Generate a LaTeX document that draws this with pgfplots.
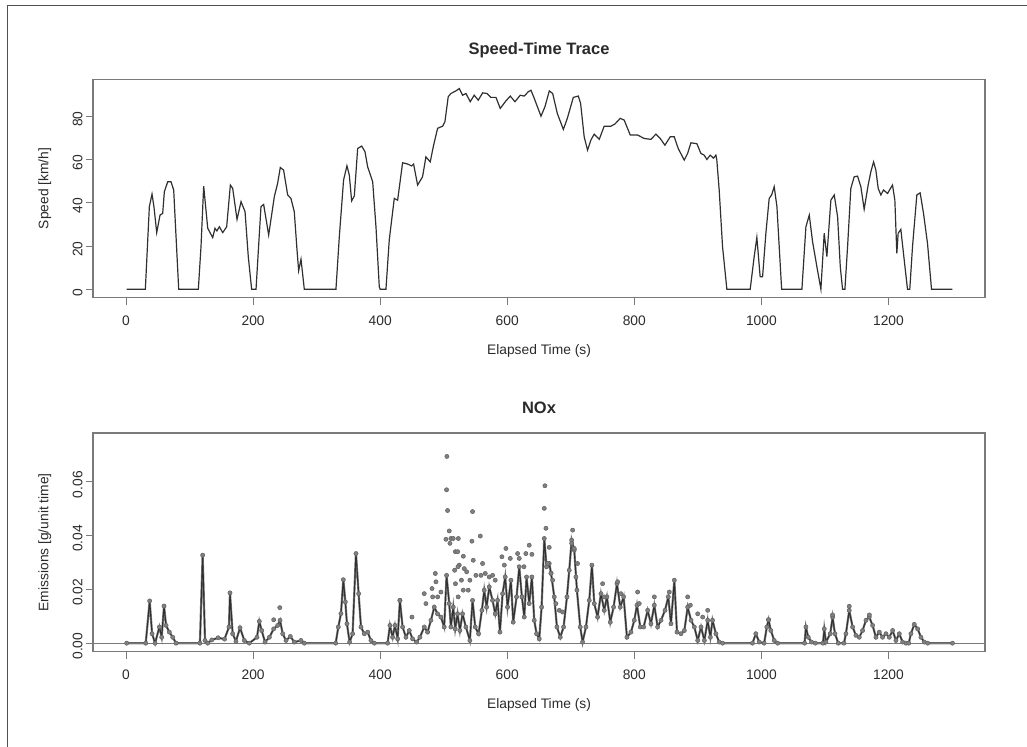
\documentclass[border=0pt]{standalone}
\usepackage{fontspec}
\setmainfont{Liberation Sans}
\usepackage{pgfplots}
\usepackage{pgfplotstable}
\pgfplotsset{compat=1.18}
\definecolor{trace}{HTML}{303030}
\definecolor{boxc}{HTML}{7A7A7A}
\definecolor{ptc}{HTML}{808080}
\definecolor{txt}{HTML}{2A2A2A}
\definecolor{framec}{HTML}{505050}

\pgfplotstableread{
x y
1 0
30.4 0
36.7 38.2
40.9 44
44 38
48.3 26.2
53.5 34.3
57.7 35.1
60.3 45.1
65.6 49.7
70.8 49.7
75 45.9
82.9 0
113.8 0
118 19.7
122.2 47.7
128.6 28.2
136.4 23.9
140 28.2
143 27
146.9 28.9
152.2 26.2
158.4 28.9
164.2 48.2
167.9 46.6
174.7 32.3
181 40.5
187.3 35.9
192.4 15.1
197.7 0
204.6 0
212.4 38.2
216.6 39.2
224.5 25.1
233.4 42.8
238.6 49
242.8 56.3
248 55.1
254.4 43.6
259.6 42
264.8 35.9
269.1 18.2
271.7 8.6
275.4 13.9
280.6 0
330.4 0
335.7 24.3
342.4 50.5
347.7 57.1
351.4 52.8
355.1 40.9
359.3 43.1
364.6 65.1
370.9 66.2
376.1 63.6
380.3 56.6
388.2 49.7
393.4 28.9
398.6 1.2
400 0
409.1 0
414.3 22.8
422.2 42
427.5 41.2
435.3 58.5
443.2 57.9
449.5 57
452.6 57.9
458.9 48.2
466.7 52
472 61.2
478.8 58.9
484.1 66.6
490.4 74.4
498.3 75.4
501.9 77.4
507.1 89
511.4 90.5
519.3 91.7
524.5 92.8
529.8 89.7
535 90.5
541.8 86.7
548 89.7
554.4 87.4
561.3 90.8
568 90.5
574.4 88.7
582.2 88.7
589 83.6
598 87.1
604.8 89.3
612.1 86.7
620.5 89.7
626.8 89.3
633.1 91.3
637.3 92
642.6 88.2
653.1 80
659.4 84.4
666.2 91.7
671.5 90.5
678.8 81.3
688.3 73.9
694.6 79
704 88.7
711.9 89.3
715.5 85.9
721.1 70.5
726.4 64.3
731.7 69
736.9 71.7
744.8 69.3
752.6 75.4
763.2 75.4
769.5 76.4
777.8 79
784.1 78.2
793.6 71.3
805.2 71.3
815.6 69.7
826.1 69.3
834 71.7
840.8 69.7
848.2 66.6
856.5 70.5
862.8 70.5
869.1 65.1
878.6 59.7
883.9 62.8
889.1 67.7
898.5 67.3
904.8 62.8
910 62
914.3 60
919.5 62
924.7 60.6
928.4 62
929.8 60
933.6 45.9
938.9 19.7
945.7 0
982.4 0
988.7 15.1
992.9 24
998.1 5.8
1001.9 5.8
1007.1 25.9
1012.3 42
1016.1 43.6
1020.2 47.4
1024.5 38.2
1031.9 0
1063.8 0
1070.1 28.9
1075.4 34.3
1080.6 22
1087.4 10.4
1093.7 0
1098.9 25.9
1103.1 15.1
1109.4 41.2
1114.7 43.6
1120 33.5
1124.2 10.4
1127.8 0
1131.5 0
1135.7 19.7
1140.8 46.6
1146.1 52
1151.4 52.3
1156.6 47.4
1161.8 37
1168.1 48.2
1172.3 54.3
1176.6 58.9
1180.2 55.1
1183.9 46.6
1188.1 43.6
1192.3 45.9
1198.6 44.3
1206.4 48.2
1210.1 41.2
1213.2 16.6
1215.3 25.9
1219.5 27.7
1224.7 13.9
1230 0
1233.6 0
1237.9 19.7
1244.7 43.6
1249.9 44.6
1255.2 35.1
1261.5 21.2
1267.8 0
1300.8 0
}\speed

\pgfplotstableread{
x y
1 0
31 0
37.2 0.0157
41 0.0035
45.7 0
52.5 0.006
56.1 0.0022
59.8 0.0138
63 0.0066
68.2 0.0041
73.5 0.0022
78.7 0
116.3 0
120.6 0.0327
124.3 0.001
128.5 0
135 0.0012
145 0.002
155 0.0015
162 0.006
163.6 0.0187
167.8 0.0035
173 0.0007
179.4 0.0057
186.2 0.001
194 0
206.1 0.0022
209.8 0.0081
213.5 0.0047
218.8 0.0004
225.6 0.0022
232.4 0.0053
238.7 0.0066
242.4 0.0085
246.6 0.0035
251.8 0.001
258.6 0.0025
264.9 0.0004
275.4 0.001
280.6 0
330 0
334.1 0.006
338.3 0.011
342 0.0236
345.2 0.0153
347.7 0.0072
351.9 0.0004
356.6 0.0035
361.9 0.0333
366.1 0.0184
369.8 0.006
375 0.0035
380.3 0.0041
385.5 0.001
390.8 0
411.7 0
415.4 0.0066
419.6 0.0022
423.3 0.0066
427.5 0.0016
431.1 0.0159
435.3 0.006
440.6 0.0022
445.8 0.0047
451 0.0016
457.3 0.0004
462.5 0.0022
469.4 0.006
474.6 0.0041
479.9 0.0085
485.1 0.0134
490.3 0.0109
495.6 0.0097
500.8 0.006
504.5 0.0252
508.7 0.0147
511.3 0.006
515 0.0134
518.1 0.0053
521.8 0.0109
525.5 0.0047
529.6 0.0109
534.9 0.006
541.2 0.001
545.4 0.0159
549.6 0.006
554.9 0.0035
560.1 0.0122
563.8 0.0197
567.5 0.0134
571.7 0.0209
576.9 0.0159
581.1 0.0109
584.8 0.0159
588.5 0.0041
592.7 0.0184
596.8 0.0246
600.5 0.0134
605.8 0.0234
609.4 0.0078
614.7 0.0172
618.9 0.0284
623.1 0.0172
626.8 0.0097
630.4 0.0246
634.6 0.0147
638.8 0.0246
642.5 0.0085
646.2 0.0035
650.4 0.0016
654.1 0.0134
658.3 0.0389
661.9 0.0284
666.1 0.0296
669 0.026
674 0.0172
678.2 0.006
683.5 0.0022
688.7 0.006
694 0.0172
697.6 0.0271
701.4 0.0383
705.5 0.0346
709.7 0.0197
714.9 0.006
718.6 0.0004
723.9 0.006
729.1 0.0159
733.3 0.029
737 0.0147
742.2 0.0097
747.5 0.0184
752.7 0.0122
756.9 0.0172
762.2 0.0078
767.4 0.0134
772.7 0.0221
777.9 0.0134
783.2 0.0172
788.4 0.0022
794.7 0.0041
800 0.0085
804.2 0.0141
809.4 0.006
814.7 0.006
821 0.0122
826.2 0.0072
831.5 0.0141
836.7 0.006
842 0.0085
848.3 0.0122
853.5 0.0172
857.7 0.0072
863 0.0234
867.2 0.0041
873.5 0.0035
878.8 0.0047
884 0.0134
889.3 0.0085
894.5 0.006
899.8 0.001
905 0.006
910.3 0.001
915.5 0.0085
919.7 0.0022
923.1 0.0085
928.4 0.0035
933.6 0.0004
938.9 0
986 0
991.3 0.0035
996.6 0.0004
1004.4 0
1008.6 0.006
1011.3 0.0087
1014.9 0.0047
1020.2 0.001
1025.5 0
1068 0
1070.1 0.006
1073.8 0.0022
1079 0.0004
1085 0
1097 0
1099 0.0053
1101.6 0.0004
1108.4 0.0035
1112.1 0.0097
1115.8 0.0035
1121 0
1130 0
1133.1 0.0035
1138.3 0.0122
1143.6 0.006
1148.8 0.0029
1154.1 0.0022
1159.3 0.0047
1164.6 0.0085
1169.8 0.0097
1175.1 0.0066
1180.3 0.0022
1185.6 0.0041
1190.8 0.0022
1196.1 0.0035
1201.3 0.0022
1206.6 0.0047
1211.8 0.001
1217.1 0.0035
1222.3 0.0004
1227.6 0
1232 0
1235.4 0.0035
1240.7 0.007
1246 0.0053
1251.2 0.0022
1256.5 0.0004
1261.7 0
1300.8 0
}\noxline

\pgfplotstableread{
x y
505 0.0694
504.5 0.057
506.1 0.0493
508.7 0.0417
503.5 0.0386
511.3 0.0389
515 0.0389
509.8 0.0371
523 0.0389
518.3 0.034
522 0.034
530.9 0.0323
524.5 0.029
522.4 0.0284
517.2 0.0271
532.4 0.0277
536.2 0.0265
545.4 0.0489
544.4 0.0379
557.6 0.0398
546.5 0.0308
550.7 0.0252
558.6 0.0252
561.2 0.0296
565.4 0.0259
571.7 0.0246
576.9 0.0252
581.1 0.0234
486.8 0.0259
487.8 0.0228
481.6 0.0203
469.4 0.0184
482.6 0.0172
490.5 0.0172
495.6 0.019
431.1 0.0159
450 0.0097
472 0.0147
518.5 0.0221
522.8 0.0172
527.9 0.0234
530.8 0.0197
538.6 0.0197
541.2 0.0234
597.9 0.0352
591.6 0.0321
604.8 0.0315
595.4 0.029
616.3 0.0333
618.9 0.0315
629.3 0.0333
634.6 0.0364
638.8 0.033
626.3 0.0284
659.3 0.0585
658.3 0.0501
660.9 0.0427
666.1 0.0356
663.5 0.0296
668.8 0.0259
671.4 0.0234
702.9 0.042
701.4 0.0371
705.5 0.0352
710.7 0.0296
708.1 0.0246
676.6 0.0147
681.9 0.0122
687.1 0.0116
750.1 0.0221
752.7 0.0172
773.7 0.0228
778.9 0.0184
805.2 0.019
807.8 0.0147
831.5 0.0172
855.1 0.019
884 0.0172
888.2 0.0141
899.8 0.0109
907.6 0.0097
915.5 0.0122
242 0.0132
232.4 0.0087
1011.3 0.0087
1138.3 0.0137
1112 0.0105
1170 0.0105
}\noxpts

\newcommand{\fs}{\fontsize{13.8bp}{16bp}\selectfont}
\pgfplotsset{
  rstyle/.style={
    scale only axis, width=892bp, height=218.5bp,
    xmin=-52, xmax=1352,
    axis line style={boxc, line width=1.3bp},
    tick style={boxc, line width=1bp},
    tick align=outside, major tick length=7bp,
    xtick pos=bottom, ytick pos=left,
    xtick={0,200,400,600,800,1000,1200},
    xticklabels={0,200,400,600,800,1000,1200},
    scaled ticks=false,
    ticklabel style={font=\fs, text=txt},
    xticklabel style={yshift=-8bp},
    yticklabel style={rotate=90, anchor=south, xshift=-3bp},
    label style={font=\fs, text=txt},
    xlabel={Elapsed Time (s)},
    xlabel style={at={(axis description cs:0.5,-0.245)}, anchor=center},
    ylabel style={at={(axis description cs:-0.054,0.5)}, anchor=center},
    title style={font=\fontsize{16.5bp}{18bp}\selectfont\bfseries, text=txt, anchor=center},
    clip=true,
  }
}

\begin{document}
\begin{tikzpicture}
\path[use as bounding box] (0,0) rectangle (1027bp,-747bp);
\draw[framec, line width=1bp] (7.5bp,-747bp) -- (7.5bp,-5.7bp) -- (1027bp,-5.7bp);

\begin{axis}[rstyle, at={(93bp,-297.7bp)}, anchor=south west,
  ymin=-3.88, ymax=97.1,
  ytick={0,20,40,60,80}, yticklabels={0,20,40,60,80},
  title={Speed-Time Trace}, title style={at={(axis description cs:0.5,1.105)}},
  ylabel={Speed [km/h]}]
  \addplot[trace, line width=1.2bp, no marks] table[x=x,y=y] {\speed};
\end{axis}

\begin{axis}[rstyle, at={(93bp,-651.5bp)}, anchor=south west,
  ymin=-0.0031, ymax=0.0781,
  ytick={0,0.02,0.04,0.06}, yticklabels={0.00,0.02,0.04,0.06},
  title={NOx}, title style={at={(axis description cs:0.5,1.09)}},
  ylabel={Emissions [g/unit time]}]
  \addplot[ptc, line width=2.2bp, no marks] table[x=x,y=y] {\noxline};
  \addplot[only marks, mark=*, mark size=2.1bp, ptc, mark options={draw=ptc!75!black, line width=0.5bp}] table[x=x,y=y] {\noxline};
  \addplot[only marks, mark=*, mark size=2.1bp, ptc, mark options={draw=ptc!75!black, line width=0.5bp}] table[x=x,y=y] {\noxpts};
  \addplot[trace, line width=1.1bp, no marks] table[x=x,y=y] {\noxline};
  \addplot[boxc, line width=1.2bp, no marks] coordinates {(-52,0) (1352,0)};
\end{axis}
\end{tikzpicture}
\end{document}
